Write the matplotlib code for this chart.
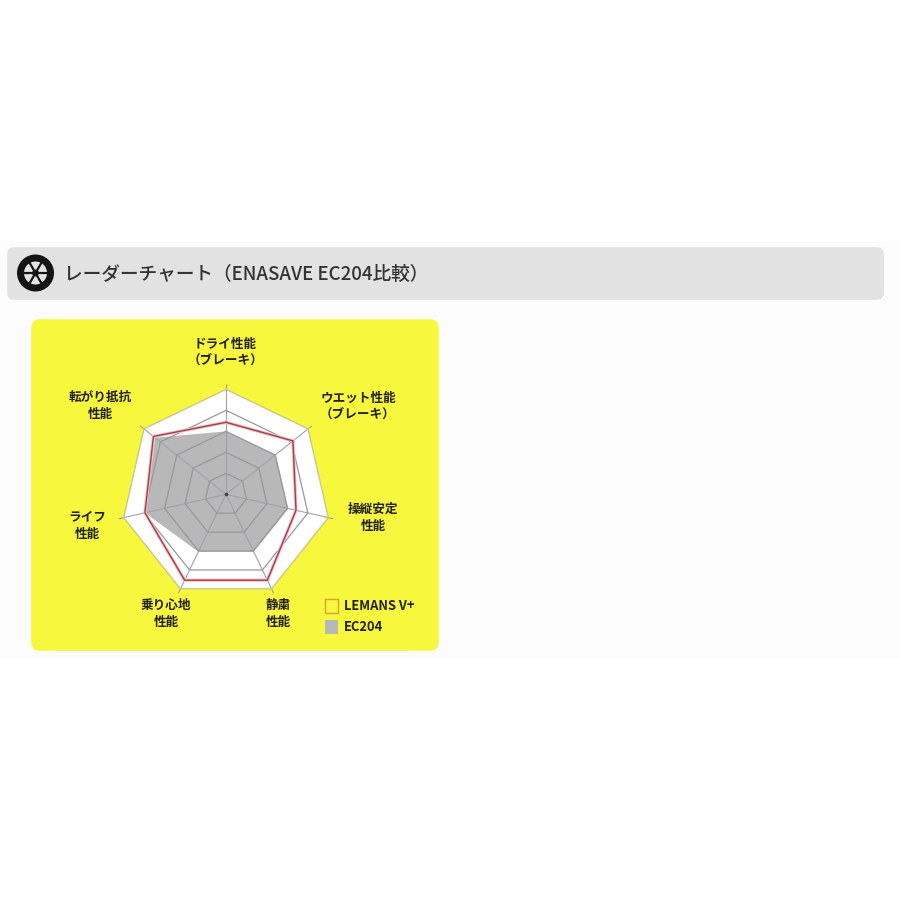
import numpy as np
import matplotlib
matplotlib.use("Agg")
import matplotlib.pyplot as plt
from matplotlib.patches import FancyBboxPatch, Rectangle, Circle

plt.rcParams["font.family"] = ["Noto Sans CJK JP", "DejaVu Sans"]

# 0 to 5 scale, clockwise from the top axis
categories = ["ドライ性能\n（ブレーキ）", "ウエット性能\n（ブレーキ）", "操縦安定\n性能", "静粛\n性能",
              "乗り心地\n性能", "ライフ\n性能", "転がり抵抗\n性能"]
lemans = [3.43, 4.08, 3.42, 4.54, 4.54, 3.96, 4.42]
ec204 = [3.0, 3.03, 3.05, 3.04, 3.04, 3.96, 4.32]
rings = [1, 2, 3, 4, 5]
series_names = ["LEMANS V+", "EC204"]
title = "レーダーチャート（ENASAVE EC204比較）"

W = 900.0
CX, CY = 226.0, 494.3
R_AX = 110.0


def closed(vals):
    return np.r_[vals, vals[0]]


fig = plt.figure(figsize=(9, 9), dpi=100, facecolor="white")

# page furniture in pixel coordinates
bg = fig.add_axes([0, 0, 1, 1])
bg.set_xlim(0, W)
bg.set_ylim(W, 0)
bg.axis("off")
bg.add_patch(Rectangle((0, 241), W, 417, fc="#fcfcfc", ec="none"))
bg.add_patch(FancyBboxPatch((10, 250), 871, 47, boxstyle="round,pad=0,rounding_size=4",
                            fc="#e2e2e2", ec="#e2e2e2", lw=4))
bg.add_patch(FancyBboxPatch((34, 322), 402, 326, boxstyle="round,pad=0,rounding_size=6",
                            fc="#f7f73e", ec="#f7f73e", lw=4))

# wheel icon
bg.add_patch(Circle((35.5, 273), 18.5, fc="#141414", ec="none"))
bg.add_patch(Circle((35.5, 273), 11.5, fc="#e4e4e4", ec="none"))
for a in np.deg2rad(np.arange(0, 360, 60)):
    bg.plot([35.5, 35.5 + 12 * np.cos(a)], [273, 273 + 12 * np.sin(a)], color="#141414", lw=1.6)
bg.add_patch(Circle((35.5, 273), 3.4, fc="#141414", ec="none"))

bg.text(64.5, 274, title, fontsize=13.45, fontweight="medium", color="#333333", va="center", ha="left")

# legend
bg.add_patch(Rectangle((325, 599), 13, 14, fc="none", ec="#d9a030", lw=1.0))
bg.add_patch(Rectangle((325, 620), 13, 14, fc="#b6b7b9", ec="none"))
bg.text(344, 606, series_names[0], fontsize=9.3, fontweight="bold", color="#222222", va="center")
bg.text(344, 627, series_names[1], fontsize=9.3, fontweight="bold", color="#222222", va="center")

# radar
ax = fig.add_axes([(CX - R_AX) / W, 1 - (CY + R_AX) / W, 2 * R_AX / W, 2 * R_AX / W],
                  projection="polar")
ax.set_theta_zero_location("N")
ax.set_theta_direction(-1)
ax.patch.set_alpha(0)
ax.spines["polar"].set_visible(False)
ax.grid(False)
ax.set_xticks([])
ax.set_yticks([])
ax.set_ylim(0, 5.24)

theta = np.linspace(0, 2 * np.pi, len(categories), endpoint=False)
th = closed(theta)

ax.fill(th, closed([rings[-1]] * len(theta)), color="white", zorder=1, lw=0)
ax.fill(th, closed(ec204), color="#b8b8b8", zorder=2, lw=0)
for t in theta:
    ax.plot([t, t], [0, 5.24], color="#a0a2a8", lw=0.8, zorder=3)
for r in rings[:-1]:
    ax.plot(th, closed([r] * len(theta)), color="#97989c", lw=0.9, zorder=3)
ax.plot(th, closed([rings[-1]] * len(theta)), color="#c8c88c", lw=1.0, zorder=3)
ax.plot(th, closed(lemans), color="#ecc4c4", lw=2.4, zorder=4, solid_joinstyle="miter")
ax.plot(th, closed(lemans), color="#a83a50", lw=1.0, zorder=5, solid_joinstyle="miter")
ax.plot([0], [0], "o", color="#444444", ms=1.6, zorder=6)

# axis labels, pixel centres
label_x = [225, 358, 373, 278, 166, 87, 100]
label_y = [353, 407, 518, 614, 614, 526, 406]
for name, x, y in zip(categories, label_x, label_y):
    bg.text(x, y, name, fontsize=9.1, fontweight="bold", color="#222222",
            ha="center", va="center", linespacing=1.35)

fig.savefig("out.png", dpi=100)
plt.close(fig)
